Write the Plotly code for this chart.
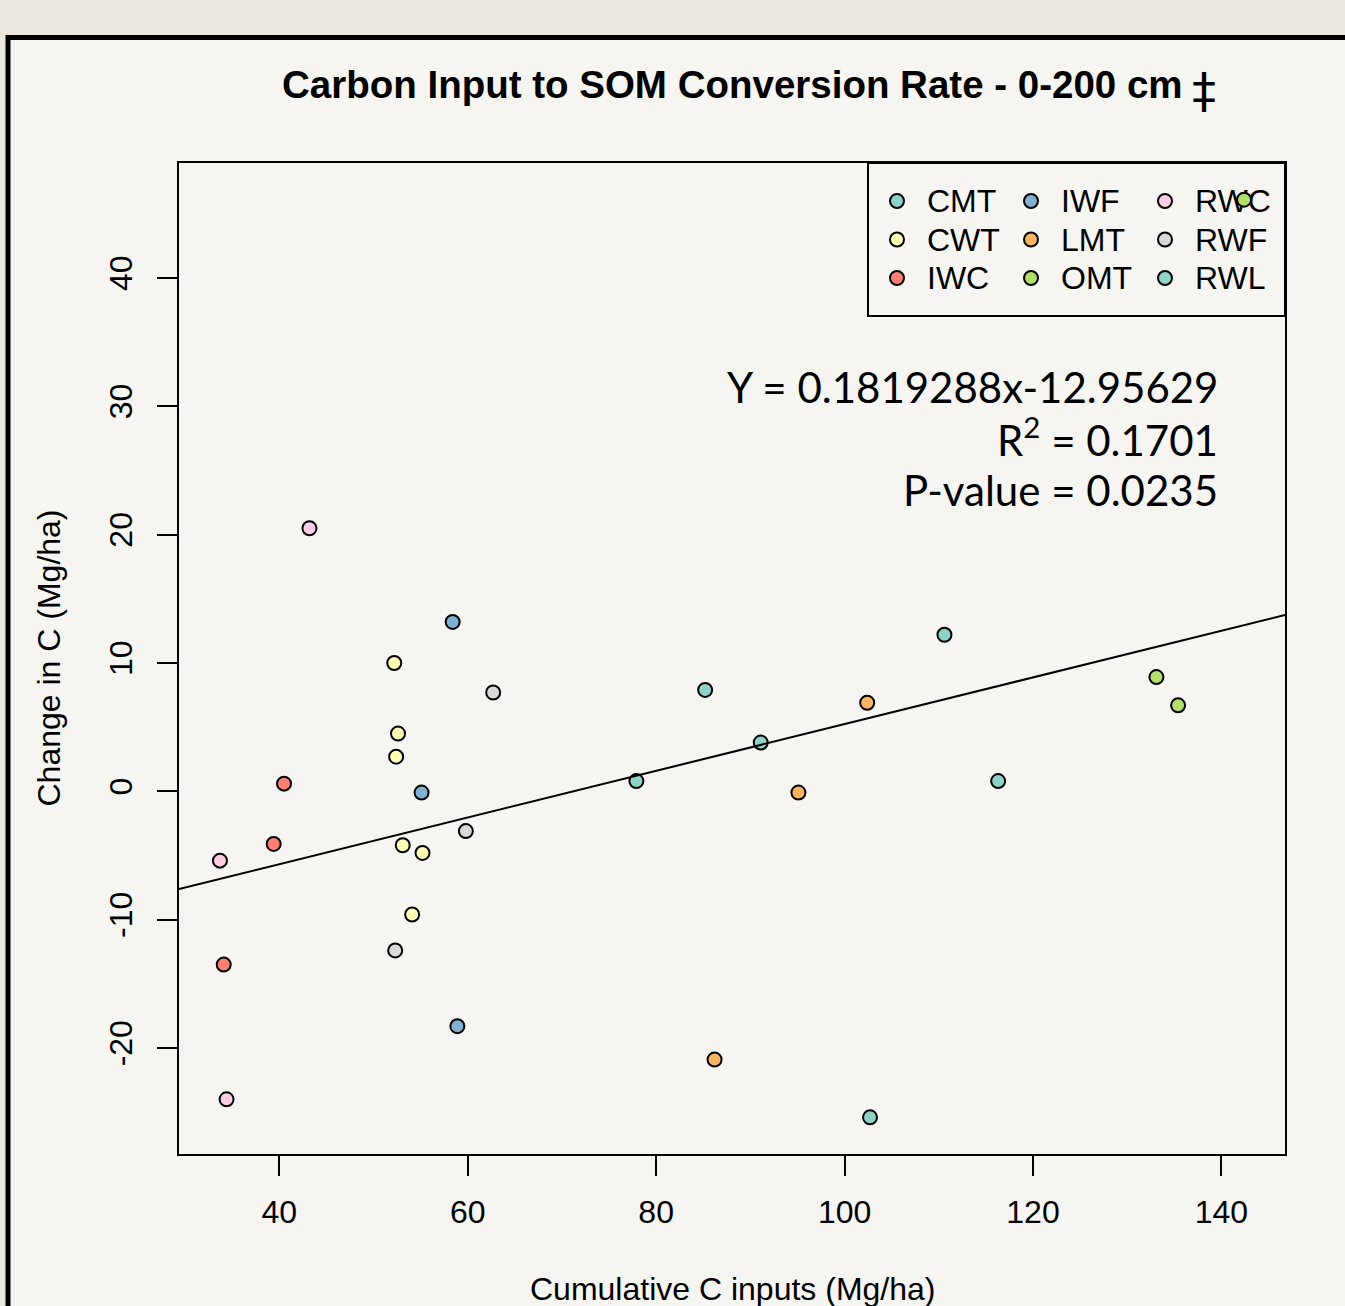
import plotly.graph_objects as go

# ---------------- data ----------------
groups = ["CMT", "CWT", "IWC", "IWF", "LMT", "OMT", "RWC", "RWF", "RWL"]
colors = ["#8DD3C7", "#FFFFB3", "#FB8072", "#80B1D3", "#FDB462",
          "#B3DE69", "#FCCDE5", "#D9D9D9", "#8DD3C7"]

cmt_x = [77.9, 85.2, 91.1]
cmt_y = [0.8, 7.9, 3.8]
cwt_x = [52.2, 52.6, 52.4, 53.1, 55.2, 54.1]
cwt_y = [10.0, 4.5, 2.7, -4.2, -4.8, -9.6]
iwc_x = [40.5, 39.4, 34.1]
iwc_y = [0.6, -4.1, -13.5]
iwf_x = [58.4, 55.1, 58.9]
iwf_y = [13.2, -0.1, -18.3]
lmt_x = [102.4, 95.1, 86.2]
lmt_y = [6.9, -0.1, -20.9]
omt_x = [133.1, 135.4, 142.4]
omt_y = [8.9, 6.7, 46.1]
rwc_x = [43.2, 33.7, 34.4]
rwc_y = [20.5, -5.4, -24.0]
rwf_x = [62.7, 59.8, 52.3]
rwf_y = [7.7, -3.1, -12.4]
rwl_x = [102.7, 110.6, 116.3]
rwl_y = [-25.4, 12.2, 0.8]

series_x = [cmt_x, cwt_x, iwc_x, iwf_x, lmt_x, omt_x, rwc_x, rwf_x, rwl_x]
series_y = [cmt_y, cwt_y, iwc_y, iwf_y, lmt_y, omt_y, rwc_y, rwf_y, rwl_y]

slope = 0.1819288
intercept = -12.95629
x_ticks = [40, 60, 80, 100, 120, 140]
y_ticks = [-20, -10, 0, 10, 20, 30, 40]

title_text = "Carbon Input to SOM Conversion Rate - 0-200 cm"
stat_lines = ["Y = 0.1819288x-12.95629", "R<sup>2</sup> = 0.1701", "P-value = 0.0235"]

# ---------------- geometry helpers ----------------
W, H = 1345, 1306
L, R, T, B = 179, 60, 163, 152
PW, PH = W - L - R, H - T - B


def px(xpix):
    return (xpix - L) / PW


def py(ypix):
    return (H - B - ypix) / PH


all_x = [v for s in series_x for v in s]
all_y = [v for s in series_y for v in s]
dx = max(all_x) - min(all_x)
dy = max(all_y) - min(all_y)
x_range = [min(all_x) - 0.04 * dx, max(all_x) + 0.04 * dx]
y_range = [min(all_y) - 0.04 * dy, max(all_y) + 0.04 * dy]

FONT = "Liberation Sans, Arial, sans-serif"
MSIZE = 14

fig = go.Figure()

# ---------------- legend (drawn in its own small axes: x/y) ----------------
n_rows = 3
leg_cols = [i // n_rows for i in range(len(groups))]
leg_rows = [i % n_rows for i in range(len(groups))]
col_step = 134.0
row_step = 38.5
box_w, box_h = 417.0, 153.0
first_col_off, first_row_off = 29.0, 38.0
text_off = 30.0 / col_step
text_dy = 3.0 / row_step

fig.add_trace(go.Scatter(
    x=leg_cols, y=leg_rows, mode="markers",
    marker=dict(size=MSIZE, color=colors, line=dict(color="black", width=2)),
    xaxis="x", yaxis="y", hoverinfo="skip"))
fig.add_trace(go.Scatter(
    x=[c + text_off for c in leg_cols], y=[r + text_dy for r in leg_rows], mode="text",
    text=groups, textposition="middle right",
    textfont=dict(family=FONT, size=32, color="black"),
    xaxis="x", yaxis="y", hoverinfo="skip"))

# ---------------- main data (x2/y2 so it draws above legend) ----------------
for g, c, xs, ys in zip(groups, colors, series_x, series_y):
    fig.add_trace(go.Scatter(
        x=xs, y=ys, mode="markers", name=g,
        marker=dict(size=MSIZE, color=c, line=dict(color="black", width=2)),
        xaxis="x2", yaxis="y2"))

fig.add_trace(go.Scatter(
    x=x_range, y=[intercept + slope * v for v in x_range], mode="lines",
    line=dict(color="black", width=2), xaxis="x2", yaxis="y2", hoverinfo="skip"))

leg_x0 = 1285 - box_w
fig.update_layout(
    xaxis=dict(domain=[px(leg_x0), 1.0], anchor="y", visible=False,
               range=[-first_col_off / col_step, (box_w - first_col_off) / col_step]),
    yaxis=dict(domain=[py(T + box_h), 1.0], anchor="x", visible=False,
               range=[(box_h - first_row_off) / row_step, -first_row_off / row_step]),
    xaxis2=dict(domain=[0, 1], anchor="y2", range=x_range,
                tickvals=x_ticks, ticktext=[str(v) for v in x_ticks],
                showline=True, mirror=True, linecolor="black", linewidth=2,
                ticks="outside", ticklen=20, tickwidth=2, tickcolor="black",
                showgrid=False, zeroline=False,
                tickfont=dict(family=FONT, size=32, color="black"),
                ticklabelstandoff=9),
    yaxis2=dict(domain=[0, 1], anchor="x2", range=y_range,
                tickvals=y_ticks, ticktext=[str(v) for v in y_ticks],
                showline=True, mirror=True, linecolor="black", linewidth=2,
                ticks="outside", ticklen=20, tickwidth=2, tickcolor="black",
                showgrid=False, zeroline=False, tickangle=-90,
                tickfont=dict(family=FONT, size=32, color="black"),
                ticklabelstandoff=12),
    width=W, height=H, autosize=False,
    margin=dict(l=L, r=R, t=T, b=B, pad=0),
    paper_bgcolor="#ece6e0",
    plot_bgcolor="rgba(0,0,0,0)",
    showlegend=False,
)

# frame and legend box
fig.add_shape(type="rect", xref="paper", yref="paper",
              x0=px(8), x1=px(1400), y0=py(1360), y1=py(37.5),
              line=dict(color="black", width=5), fillcolor="#f7f5f2", layer="below")
fig.add_shape(type="rect", xref="paper", yref="paper",
              x0=px(leg_x0), x1=1.0, y0=py(T + box_h), y1=1.0,
              line=dict(color="black", width=2), fillcolor="rgba(0,0,0,0)", layer="below")

ann = []
ann.append(dict(text="<b>" + title_text + "</b>", xref="paper", yref="paper",
                x=0.5, y=py(84), xanchor="center", yanchor="middle", showarrow=False,
                font=dict(family=FONT, size=38.5, color="black")))
ann.append(dict(text="\u2021", xref="paper", yref="paper",
                x=px(1204), y=py(90), xanchor="center", yanchor="middle", showarrow=False,
                font=dict(family="DejaVu Sans, sans-serif", size=48, color="black")))
stat_y = [386.7, 436.5, 490.0]
for t, yy in zip(stat_lines, stat_y):
    ann.append(dict(text=t, xref="paper", yref="paper", x=px(1220), y=py(yy),
                    xanchor="right", yanchor="middle", showarrow=False,
                    font=dict(family="Lato, sans-serif", size=42, color="black")))
ann.append(dict(text="Cumulative C inputs (Mg/ha)", xref="paper", yref="paper",
                x=0.5, y=py(1289), xanchor="center", yanchor="middle", showarrow=False,
                font=dict(family=FONT, size=32, color="black")))
ann.append(dict(text="Change in C (Mg/ha)", xref="paper", yref="paper",
                x=px(48), y=0.5, xanchor="center", yanchor="middle", showarrow=False,
                textangle=-90, font=dict(family=FONT, size=32, color="black")))
fig.update_layout(annotations=ann)

fig.write_html("out.html")
